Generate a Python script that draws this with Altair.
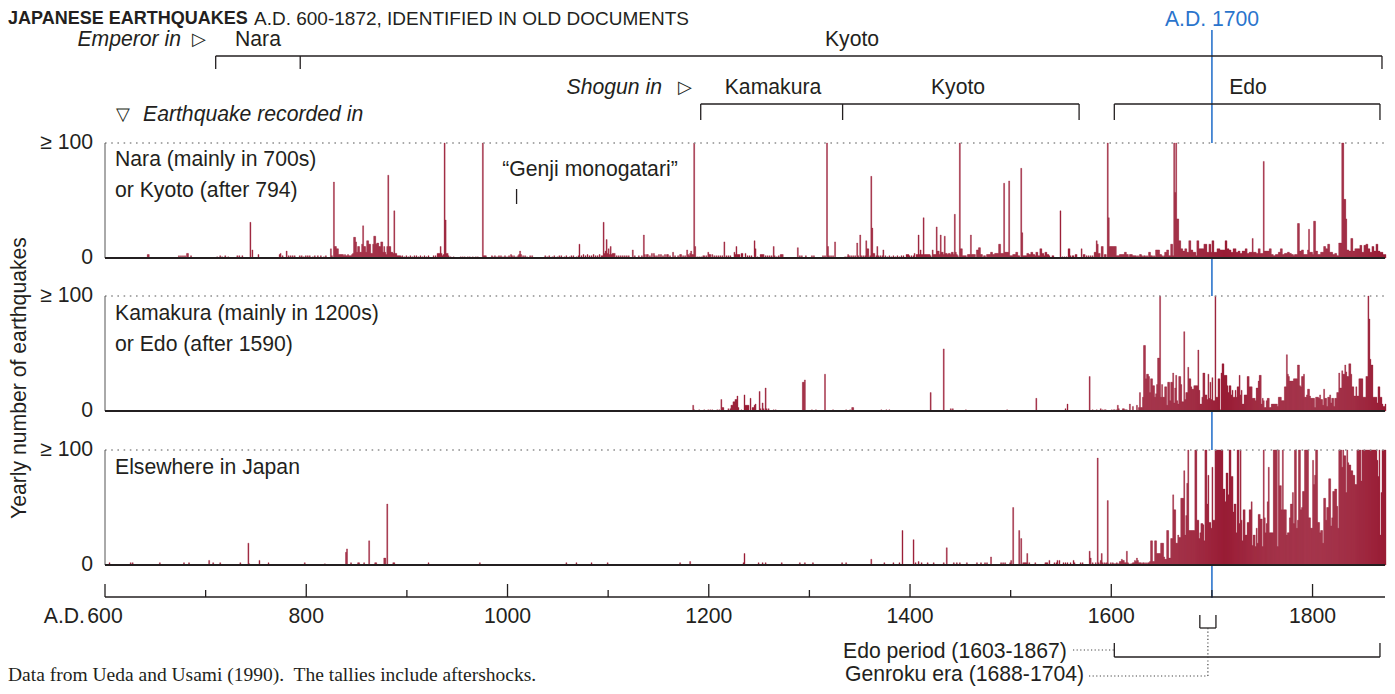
import altair as alt
import pandas as pd

# ------------------------------------------------------------------ data
# Yearly earthquake counts (values >= 100 are capped).
# Panel 1: recorded in Nara (mainly 700s) or Kyoto (after 794) -- sparse years 600-1599
P1_EARLY = [
    (642, 3), (643, 3), (673, 2), (675, 2), (677, 2), (679, 2), (681, 4), (682, 4), (685, 2),
    (711, 1), (714, 2), (716, 1), (719, 2), (722, 1), (731, 2), (733, 2), (736, 2), (744, 31), (746, 7), (752, 3),
    (773, 3), (774, 4), (776, 2), (780, 6), (782, 2), (784, 2), (786, 2), (788, 2), (793, 2), (795, 2), (797, 1), (799, 2),
    (801, 2), (803, 2), (806, 1), (808, 2), (811, 2), (814, 2), (817, 1), (819, 2), (824, 8), (825, 2), (827, 66), (828, 10), (829, 10),
    (830, 8), (831, 8), (832, 3), (833, 3), (834, 3), (835, 3), (836, 3), (837, 2), (838, 3), (839, 2),
    (840, 2), (841, 3), (842, 2), (843, 2), (844, 2), (845, 3), (846, 4), (847, 18), (848, 18), (849, 14),
    (850, 5), (851, 10), (852, 10), (853, 5), (854, 5), (855, 12), (856, 28), (857, 10), (858, 10), (859, 5),
    (860, 15), (861, 15), (862, 12), (863, 12), (864, 4), (865, 4), (866, 12), (867, 19), (868, 19), (869, 12),
    (870, 13), (871, 13), (872, 10), (873, 10), (874, 14), (875, 14), (876, 5), (877, 10), (878, 5), (879, 3),
    (880, 10), (881, 72), (882, 10), (883, 10), (884, 5), (885, 5), (886, 4), (887, 41), (888, 4), (889, 4),
    (890, 2), (891, 2), (892, 2), (893, 2), (894, 1), (895, 2), (897, 1), (899, 2), (901, 1), (903, 2), (905, 1), (907, 2), (909, 2),
    (911, 1), (913, 2), (915, 1), (917, 2), (919, 1), (921, 2), (926, 2), (928, 2), (930, 4), (931, 4), (932, 4), (933, 10), (934, 4),
    (935, 2), (936, 3), (937, 100), (938, 33), (939, 4), (940, 4), (941, 2), (943, 1), (946, 1), (953, 1), (955, 1), (957, 1), (960, 1),
    (962, 1), (965, 1), (968, 1), (970, 1), (975, 100), (976, 2), (977, 2), (978, 2), (984, 2), (985, 1), (987, 2), (989, 1), (991, 2),
    (993, 2), (995, 1), (997, 2), (999, 1), (1001, 2), (1003, 3), (1004, 2), (1006, 2), (1008, 1), (1010, 2), (1011, 3), (1012, 6),
    (1013, 3), (1015, 2), (1017, 2), (1019, 1), (1022, 2), (1024, 2), (1037, 2), (1039, 1), (1041, 2), (1044, 1), (1046, 2), (1049, 1),
    (1051, 2), (1053, 2), (1056, 1), (1058, 2), (1061, 1), (1063, 2), (1065, 2), (1068, 1), (1070, 2), (1071, 12), (1073, 2), (1075, 3),
    (1077, 2), (1079, 3), (1081, 2), (1083, 2), (1085, 3), (1087, 2), (1089, 2), (1091, 3), (1093, 2), (1094, 2), (1095, 31), (1096, 4),
    (1097, 6), (1098, 16), (1099, 4), (1100, 8), (1101, 3), (1102, 10), (1103, 3), (1104, 4), (1105, 4), (1106, 4), (1108, 2), (1110, 2),
    (1112, 2), (1114, 2), (1116, 2), (1118, 2), (1120, 2), (1124, 7), (1126, 2), (1130, 2), (1133, 2), (1135, 20), (1136, 3), (1138, 3),
    (1139, 3), (1141, 2), (1143, 4), (1145, 4), (1146, 2), (1148, 2), (1150, 3), (1152, 3), (1154, 2), (1156, 3), (1158, 3), (1159, 3),
    (1161, 2), (1164, 5), (1166, 2), (1169, 2), (1171, 3), (1172, 3), (1174, 2), (1176, 2), (1178, 7), (1179, 3), (1180, 2), (1181, 4),
    (1182, 6), (1183, 3), (1184, 3), (1185, 100), (1186, 10), (1188, 1), (1190, 1), (1192, 1), (1194, 2), (1195, 2), (1197, 2), (1199, 5),
    (1200, 3), (1201, 3), (1203, 3), (1205, 2), (1207, 2), (1209, 2), (1211, 2), (1213, 2), (1215, 14), (1217, 2), (1219, 2), (1221, 2),
    (1225, 5), (1226, 3), (1227, 10), (1228, 3), (1229, 3), (1230, 3), (1232, 4), (1233, 4), (1236, 4), (1238, 2), (1240, 2), (1242, 2),
    (1245, 15), (1246, 8), (1248, 1), (1251, 3), (1252, 3), (1253, 3), (1254, 3), (1256, 2), (1258, 2), (1260, 2), (1262, 2), (1264, 10),
    (1265, 2), (1267, 1), (1269, 2), (1271, 3), (1272, 3), (1273, 3), (1288, 9), (1290, 2), (1292, 2), (1296, 2), (1302, 2), (1304, 2),
    (1313, 2), (1315, 2), (1317, 100), (1318, 10), (1319, 2), (1321, 2), (1323, 2), (1325, 14), (1335, 1), (1337, 1), (1338, 3), (1339, 2),
    (1341, 2), (1343, 2), (1345, 2), (1347, 13), (1348, 2), (1350, 20), (1351, 2), (1353, 2), (1355, 2), (1356, 15), (1357, 8), (1358, 8),
    (1360, 2), (1361, 71), (1362, 26), (1363, 4), (1364, 4), (1366, 2), (1367, 10), (1368, 2), (1370, 2), (1372, 2), (1373, 7), (1375, 2),
    (1377, 1), (1379, 2), (1381, 1), (1383, 2), (1385, 1), (1387, 2), (1389, 1), (1391, 2), (1393, 2), (1396, 3), (1397, 3), (1398, 3),
    (1399, 2), (1401, 2), (1403, 2), (1404, 4), (1406, 3), (1407, 3), (1408, 20), (1409, 3), (1410, 7), (1411, 3), (1412, 3), (1413, 35),
    (1414, 3), (1415, 3), (1416, 3), (1417, 3), (1418, 3), (1419, 3), (1420, 2), (1422, 7), (1423, 3), (1424, 3), (1425, 3), (1426, 27),
    (1427, 6), (1428, 6), (1429, 3), (1430, 20), (1431, 5), (1432, 5), (1433, 3), (1434, 19), (1435, 4), (1436, 4), (1437, 3), (1438, 4),
    (1439, 4), (1440, 3), (1441, 5), (1442, 5), (1443, 3), (1444, 38), (1445, 5), (1446, 3), (1447, 2), (1449, 100), (1450, 8), (1451, 8),
    (1452, 2), (1453, 2), (1454, 2), (1455, 2), (1457, 3), (1458, 3), (1459, 3), (1460, 20), (1461, 3), (1462, 3), (1463, 3), (1464, 3),
    (1466, 7), (1467, 7), (1468, 9), (1469, 9), (1470, 3), (1471, 3), (1473, 2), (1474, 2), (1476, 3), (1477, 3), (1478, 3), (1479, 3),
    (1480, 5), (1481, 5), (1482, 3), (1483, 3), (1484, 4), (1485, 4), (1486, 4), (1487, 4), (1488, 12), (1489, 12), (1490, 4), (1491, 4),
    (1492, 4), (1493, 65), (1494, 5), (1495, 5), (1496, 5), (1497, 5), (1498, 67), (1499, 2), (1500, 2), (1501, 2), (1502, 3), (1503, 3),
    (1504, 3), (1505, 5), (1506, 5), (1507, 2), (1508, 2), (1510, 78), (1511, 22), (1512, 2), (1513, 2), (1514, 2), (1515, 2), (1516, 4),
    (1517, 4), (1518, 3), (1519, 3), (1520, 5), (1521, 5), (1522, 3), (1523, 3), (1524, 2), (1525, 5), (1526, 5), (1527, 2), (1528, 2),
    (1529, 8), (1530, 8), (1531, 4), (1532, 4), (1533, 2), (1534, 5), (1535, 5), (1536, 3), (1537, 3), (1538, 2), (1541, 2), (1542, 2),
    (1549, 41), (1551, 1), (1553, 1), (1555, 1), (1557, 8), (1558, 8), (1559, 2), (1561, 2), (1562, 2), (1564, 3), (1565, 3), (1570, 8),
    (1572, 3), (1573, 3), (1575, 2), (1577, 2), (1579, 2), (1581, 2), (1583, 5), (1584, 5), (1585, 15), (1586, 12), (1587, 4), (1588, 4),
    (1590, 10), (1591, 10), (1593, 3), (1594, 3), (1596, 100), (1597, 35), (1598, 10), (1599, 10),
]
# Panel 1, every year from 1600 to 1872
P1_DENSE_START = 1600
P1_DENSE = [
    10, 10, 10, 10, 10, 2, 2, 2, 3, 3,        # 1600s
    3, 3, 3, 5, 5, 3, 3, 1, 3, 3,             # 1610s
    3, 2, 2, 2, 2, 1, 2, 1, 3, 3,             # 1620s
    2, 1, 2, 2, 1, 2, 1, 5, 5, 2,             # 1630s
    2, 1, 2, 1, 7, 7, 7, 7, 3, 3,             # 1640s
    2, 1, 2, 5, 5, 7, 7, 2, 2, 12,            # 1650s
    12, 2, 100, 57, 100, 34, 34, 15, 15, 8,   # 1660s
    8, 6, 6, 8, 8, 5, 5, 15, 15, 7,           # 1670s
    7, 5, 5, 5, 2, 15, 15, 8, 8, 8,           # 1680s
    8, 8, 12, 12, 12, 5, 5, 12, 12, 5,        # 1690s
    15, 15, 5, 5, 5, 8, 8, 8, 7, 7,           # 1700s
    7, 7, 7, 15, 15, 8, 8, 7, 7, 5,           # 1710s
    5, 8, 8, 8, 5, 5, 6, 6, 4, 4,             # 1720s
    6, 6, 6, 8, 8, 4, 4, 5, 5, 5,             # 1730s
    17, 5, 5, 5, 4, 4, 8, 8, 4, 4,            # 1740s
    4, 84, 6, 6, 6, 6, 6, 8, 8, 3,            # 1750s
    3, 2, 2, 3, 3, 3, 5, 5, 8, 8,             # 1760s
    3, 3, 4, 4, 4, 5, 5, 4, 4, 3,             # 1770s
    3, 2, 3, 3, 3, 30, 30, 6, 6, 7,           # 1780s
    7, 3, 3, 3, 3, 7, 25, 5, 5, 5,            # 1790s
    3, 32, 32, 6, 6, 3, 3, 3, 5, 5,           # 1800s
    5, 10, 10, 8, 8, 12, 12, 5, 5, 5,         # 1810s
    3, 3, 4, 4, 2, 2, 13, 13, 13, 100,        # 1820s
    100, 51, 51, 34, 7, 7, 6, 6, 17, 17,      # 1830s
    6, 6, 8, 8, 8, 8, 8, 11, 11, 5,           # 1840s
    5, 11, 11, 12, 12, 8, 8, 5, 5, 10,        # 1850s
    10, 6, 6, 12, 12, 6, 6, 5, 5, 5,          # 1860s
    3, 3, 3,                                  # 1870-1872
]

# Panel 2: recorded in Kamakura (mainly 1200s) or Edo (after 1590)
P2_EARLY = [
    (1184, 5), (1185, 1), (1190, 1), (1195, 1), (1199, 1), (1201, 1), (1203, 1), (1208, 1), (1210, 1), (1212, 10),
    (1213, 3), (1214, 3), (1219, 2), (1221, 2), (1222, 5), (1223, 5), (1224, 8), (1225, 8), (1226, 10), (1227, 10),
    (1228, 13), (1229, 3), (1232, 1), (1235, 14), (1236, 5), (1237, 5), (1238, 5), (1239, 5), (1241, 11), (1243, 3),
    (1244, 3), (1245, 5), (1246, 6), (1250, 17), (1251, 2), (1253, 7), (1254, 2), (1256, 20), (1257, 2), (1259, 2),
    (1264, 1), (1266, 1), (1293, 25), (1294, 25), (1295, 27), (1302, 1), (1306, 1), (1315, 32), (1323, 1), (1336, 1),
    (1340, 1), (1342, 3), (1343, 3), (1371, 1), (1376, 1), (1379, 1), (1420, 16), (1433, 54), (1440, 2), (1442, 2),
    (1455, 1), (1496, 1), (1525, 11), (1554, 2), (1556, 6), (1578, 30), (1581, 1), (1585, 1), (1589, 2), (1591, 1),
]
P2_DENSE_START = 1593
P2_DENSE = [
    1, 1, 0, 0, 0, 0, 0,                      # 1593-1599
    1, 0, 1, 1, 0, 1, 5, 2, 0, 0,             # 1600s
    0, 2, 2, 1, 1, 1, 0, 0, 6, 0,             # 1610s
    0, 4, 0, 0, 0, 5, 0, 3, 16, 3,            # 1620s
    3, 12, 57, 57, 28, 32, 32, 30, 16, 28,    # 1630s
    28, 22, 22, 12, 15, 23, 46, 46, 100, 12,  # 1640s
    23, 12, 12, 21, 21, 5, 25, 25, 9, 25,     # 1650s
    25, 33, 7, 20, 31, 9, 6, 30, 30, 23,      # 1660s
    8, 8, 69, 10, 16, 16, 38, 28, 28, 21,     # 1670s
    19, 19, 22, 22, 22, 22, 53, 18, 6, 6,     # 1680s
    12, 33, 33, 14, 14, 10, 32, 11, 25, 10,   # 1690s
    29, 9, 9, 100, 12, 12, 28, 28, 1, 33,     # 1700s
    41, 41, 31, 31, 31, 22, 16, 22, 22, 14,   # 1710s
    18, 12, 12, 18, 12, 21, 21, 31, 14, 18,   # 1720s
    6, 6, 14, 14, 14, 30, 30, 21, 21, 21,     # 1730s
    11, 11, 11, 9, 20, 20, 26, 31, 31, 6,     # 1740s
    11, 9, 3, 3, 9, 11, 11, 3, 3, 6,          # 1750s
    6, 6, 6, 6, 6, 4, 12, 12, 12, 9,          # 1760s
    9, 9, 21, 21, 49, 32, 30, 26, 26, 26,     # 1770s
    26, 28, 28, 28, 28, 40, 40, 22, 21, 30,   # 1780s
    30, 32, 12, 12, 14, 19, 19, 13, 11, 11,   # 1790s
    11, 11, 3, 12, 12, 12, 11, 14, 10, 10,    # 1800s
    5, 19, 11, 11, 4, 12, 12, 14, 7, 11,      # 1810s
    11, 4, 11, 11, 16, 16, 33, 20, 20, 35,    # 1820s
    32, 32, 40, 34, 30, 30, 41, 41, 32, 21,   # 1830s
    21, 13, 13, 21, 13, 13, 28, 28, 28, 28,   # 1840s
    12, 12, 12, 30, 30, 100, 80, 45, 40, 40,  # 1850s
    12, 12, 12, 12, 7, 21, 21, 12, 12, 6,     # 1860s
    4, 4, 6,                                  # 1870-1872
]

# Panel 3: recorded elsewhere in Japan
P3_EARLY = [
    (604, 2), (625, 2), (627, 2), (654, 2), (678, 2), (683, 2), (703, 4), (707, 2), (714, 2), (734, 2), (742, 19), (743, 1),
    (753, 4), (762, 2), (798, 2), (818, 1), (839, 11), (840, 14), (844, 2), (851, 2), (852, 2), (857, 2), (862, 21), (868, 2),
    (869, 2), (877, 6), (878, 6), (880, 53), (886, 2), (887, 2), (921, 2), (972, 2), (1058, 2), (1068, 2), (1083, 2), (1099, 2),
    (1171, 2), (1181, 3), (1234, 2), (1235, 10), (1249, 2), (1253, 2), (1256, 2), (1272, 2), (1290, 2), (1295, 2), (1303, 2),
    (1332, 2), (1336, 2), (1361, 5), (1374, 2), (1383, 2), (1389, 2), (1392, 30), (1403, 22), (1405, 2), (1408, 3), (1411, 2),
    (1417, 2), (1423, 2), (1433, 2), (1436, 15), (1443, 2), (1446, 2), (1449, 2), (1456, 2), (1466, 2), (1470, 2), (1474, 2),
    (1476, 2), (1480, 7), (1490, 2), (1492, 2), (1494, 2), (1499, 2), (1500, 4), (1502, 50), (1508, 30), (1510, 23), (1512, 2),
    (1513, 2), (1514, 2), (1515, 2), (1516, 10), (1518, 2), (1524, 2), (1534, 2), (1535, 2), (1536, 2), (1538, 4), (1543, 2),
    (1545, 2), (1546, 4), (1548, 4), (1552, 2), (1554, 2), (1556, 2), (1559, 2), (1562, 4), (1563, 2), (1569, 2), (1571, 2),
    (1578, 12), (1579, 6), (1581, 2), (1584, 2), (1586, 93), (1587, 2), (1589, 4), (1590, 10), (1591, 2),
]
P3_DENSE_START = 1593
P3_DENSE = [
    2, 1, 2, 56, 1, 0, 2,                                # 1593-1599
    0, 2, 1, 1, 1, 2, 1, 1, 3, 3,                        # 1600s
    5, 4, 4, 2, 2, 12, 2, 1, 0, 1,                       # 1610s
    1, 2, 2, 4, 3, 6, 4, 2, 2, 2,                        # 1620s
    1, 2, 2, 1, 2, 1, 2, 2, 3, 21,                       # 1630s
    21, 3, 3, 21, 21, 10, 10, 10, 10, 19,                # 1640s
    19, 19, 7, 5, 5, 30, 30, 6, 6, 23,                   # 1650s
    23, 61, 48, 48, 19, 19, 26, 24, 24, 58,              # 1660s
    58, 58, 82, 26, 43, 71, 100, 30, 30, 30,             # 1670s
    30, 30, 30, 100, 100, 39, 39, 23, 28, 36,            # 1680s
    36, 35, 21, 100, 100, 53, 78, 37, 37, 32,            # 1690s
    85, 39, 39, 100, 100, 100, 100, 100, 100, 100,       # 1700s
    100, 66, 66, 55, 80, 80, 61, 100, 100, 77,           # 1710s
    77, 46, 53, 53, 28, 100, 100, 36, 100, 39,           # 1720s
    21, 48, 48, 26, 26, 37, 37, 48, 48, 55,              # 1730s
    17, 26, 26, 16, 32, 19, 44, 44, 40, 40,              # 1740s
    16, 100, 41, 28, 36, 55, 85, 28, 28, 28,             # 1750s
    28, 100, 100, 100, 100, 16, 100, 69, 69, 48,         # 1760s
    100, 48, 48, 48, 26, 28, 28, 41, 53, 53,             # 1770s
    63, 36, 100, 100, 32, 39, 100, 100, 48, 50,          # 1780s
    64, 64, 100, 100, 100, 100, 41, 41, 32, 32,          # 1790s
    91, 70, 78, 100, 100, 37, 37, 28, 30, 30,            # 1800s
    19, 58, 58, 39, 50, 50, 75, 75, 34, 41,              # 1810s
    64, 64, 66, 66, 51, 32, 100, 100, 100, 85,           # 1820s
    100, 95, 95, 63, 100, 89, 87, 87, 82, 82,            # 1830s
    78, 78, 70, 70, 100, 100, 100, 100, 73, 100,         # 1840s
    100, 100, 100, 100, 100, 100, 100, 100, 100, 100,    # 1850s
    100, 100, 100, 100, 91, 77, 100, 26, 63, 100,        # 1860s
    100, 100, 100,                                       # 1870-1872
]

PANEL_LABELS = [["Nara (mainly in 700s)", "or Kyoto (after 794)"],
                ["Kamakura (mainly in 1200s)", "or Edo (after 1590)"],
                ["Elsewhere in Japan"]]
EMPEROR_SEATS = [("Nara", 710, 794), ("Kyoto", 794, 1869)]
SHOGUN_SEATS = [("Kamakura", 1192, 1333), ("Kyoto", 1333, 1568), ("Edo", 1603, 1867)]
MAJOR_TICKS = [600, 800, 1000, 1200, 1400, 1600, 1800]
MINOR_TICKS = [700, 900, 1100, 1300, 1500, 1700]
EDO_PERIOD = (1603, 1867)
GENROKU_ERA = (1688, 1704)
GENJI_YEAR = 1009
MARK_YEAR = 1700
CAP = 100

# ------------------------------------------------------------------ layout
W, H = 1280, 678           # plot area (page x 105..1385, page y 8..686)
PXU = 1.15                 # pixels per earthquake
FONT = "Liberation Sans"
SERIF = "Liberation Serif"
FS = 21.2
INK = "#231f20"
RED = "#9b1e36"
BLUE = "#2a74cc"
DOT = "#8f8f8f"


def U(page_y):
    """page pixel row -> y-scale units"""
    return (H + 8 - page_y) / PXU


def YR(page_x):
    """page pixel column -> x-scale units (years)"""
    return 600 + (page_x - 105) * 1272 / W


BASES = [U(258), U(411), U(565)]
XS = alt.Scale(domain=[600, 1872], range=[0, W], nice=False, zero=False)
YS = alt.Scale(domain=[0, H / PXU], nice=False, zero=False)


def X(f):
    return alt.X(f, type="quantitative", scale=XS, axis=None)


def Y(f):
    return alt.Y(f, type="quantitative", scale=YS, axis=None)


# bars
rows = []
for p, (early, start, dense) in enumerate([(P1_EARLY, P1_DENSE_START, P1_DENSE),
                                           (P2_EARLY, P2_DENSE_START, P2_DENSE),
                                           (P3_EARLY, P3_DENSE_START, P3_DENSE)]):
    series = list(early) + [(start + i, c) for i, c in enumerate(dense)]
    for yr, c in series:
        if c > 0:
            rows.append({"panel": p, "year": yr, "year2": yr + 1, "count": c,
                         "y0": BASES[p], "y1": BASES[p] + min(c, CAP)})
bars_df = pd.DataFrame(rows)

panels_df = pd.DataFrame({"x": [600] * 3, "x2": [1872] * 3,
                          "y0": BASES, "y1": [b + CAP for b in BASES]})

# solid segments: brackets, axis, ticks
seg = []
def s(x, x2, y, y2):
    seg.append({"x": x, "x2": x2, "y": y, "y2": y2})

# emperor seats
s(EMPEROR_SEATS[0][1], EMPEROR_SEATS[-1][2], U(56), U(56))
for yr in [EMPEROR_SEATS[0][1], EMPEROR_SEATS[0][2], EMPEROR_SEATS[-1][2]]:
    s(yr, yr, U(56), U(69))
# shogun seats
s(SHOGUN_SEATS[0][1], SHOGUN_SEATS[1][2], U(104), U(104))
s(SHOGUN_SEATS[2][1], SHOGUN_SEATS[2][2], U(104), U(104))
for yr in [SHOGUN_SEATS[0][1], SHOGUN_SEATS[0][2], SHOGUN_SEATS[1][2],
           SHOGUN_SEATS[2][1], SHOGUN_SEATS[2][2]]:
    s(yr, yr, U(104), U(120))
# Genji tick
s(GENJI_YEAR, GENJI_YEAR, U(189), U(204))
# x axis
s(600, 1872, U(597), U(597))
for yr in MAJOR_TICKS:
    s(yr, yr, U(597), U(584))
for yr in MINOR_TICKS:
    s(yr, yr, U(597), U(590))
# Genroku small bracket
s(GENROKU_ERA[0], GENROKU_ERA[0], U(615), U(628))
s(GENROKU_ERA[1], GENROKU_ERA[1], U(615), U(628))
s(GENROKU_ERA[0], GENROKU_ERA[1], U(628), U(628))
# Edo period bracket
s(EDO_PERIOD[0], EDO_PERIOD[0], U(643), U(657))
s(EDO_PERIOD[1], EDO_PERIOD[1], U(643), U(657))
s(EDO_PERIOD[0], EDO_PERIOD[1], U(657), U(657))
seg_df = pd.DataFrame(seg)

mid_genroku = (GENROKU_ERA[0] + GENROKU_ERA[1]) / 2
dots_df = pd.DataFrame([
    {"x": mid_genroku, "x2": mid_genroku, "y": U(628), "y2": U(676)},
    {"x": YR(1089), "x2": mid_genroku, "y": U(676), "y2": U(676)},
    {"x": YR(1073), "x2": EDO_PERIOD[0], "y": U(650), "y2": U(650)},
])

blue_df = pd.DataFrame({"x": [MARK_YEAR], "y": [U(30)], "y2": [U(598)]})

layers = []
layers.append(alt.Chart(blue_df).mark_rule(color=BLUE, strokeWidth=1.6).encode(
    x=X("x"), y=Y("y"), y2="y2"))
layers.append(alt.Chart(panels_df).mark_rect(color="white").encode(
    x=X("x"), x2="x2", y=Y("y0"), y2="y1"))
layers.append(alt.Chart(bars_df).mark_rect(color=RED, stroke=RED, strokeWidth=0.35).encode(
    x=X("year"), x2="year2", y=Y("y0"), y2="y1"))
layers.append(alt.Chart(panels_df).mark_rule(color=DOT, strokeWidth=1.6, strokeDash=[1.6, 4.6]).encode(
    x=X("x"), x2="x2", y=Y("y1")))
layers.append(alt.Chart(panels_df).mark_rule(color="#555555", strokeWidth=1).encode(
    x=X("x"), y=Y("y0"), y2="y1"))
layers.append(alt.Chart(panels_df).mark_rule(color=INK, strokeWidth=2).encode(
    x=X("x"), x2="x2", y=Y("y0")))
layers.append(alt.Chart(seg_df).mark_rule(color=INK, strokeWidth=1.3).encode(
    x=X("x"), x2="x2", y=Y("y"), y2="y2"))
layers.append(alt.Chart(dots_df).mark_rule(color="#444444", strokeWidth=1.2, strokeDash=[1.2, 2.4]).encode(
    x=X("x"), x2="x2", y=Y("y"), y2="y2"))

ONE = pd.DataFrame({"k": [0]})


def txt(text, page_x, page_y, align="left", size=FS, style="normal", weight="normal",
        color=INK, font=FONT, angle=None):
    kw = dict(text=text, align=align, baseline="middle", fontSize=size, fontStyle=style,
              fontWeight=weight, color=color, font=font)
    if angle is not None:
        kw["angle"] = angle
    return alt.Chart(ONE).mark_text(**kw).encode(x=alt.value(page_x - 105), y=alt.value(page_y - 8))


# title
layers.append(txt("JAPANESE EARTHQUAKES", 8, 19, size=18, weight="bold"))
layers.append(txt("A.D. 600-1872, IDENTIFIED IN OLD DOCUMENTS", 254, 19, size=19))
layers.append(txt("A.D. 1700", 1212, 20, align="center", color=BLUE))
# emperor row
layers.append(txt("Emperor in", 181, 40, align="right", style="italic"))
layers.append(txt("\u25B7", 199, 40, align="center", size=18))
layers.append(txt(EMPEROR_SEATS[0][0], 235, 40))
layers.append(txt(EMPEROR_SEATS[1][0], 852, 40, align="center"))
# shogun row
layers.append(txt("Shogun in", 662, 88, align="right", style="italic"))
layers.append(txt("\u25B7", 685, 88, align="center", size=18))
for (name, _, _), cx in zip(SHOGUN_SEATS, [773, 958, 1248]):
    layers.append(txt(name, cx, 88, align="center"))
layers.append(txt("\u25BD", 123, 115, align="center", size=18))
layers.append(txt("Earthquake recorded in", 143, 115, style="italic"))
# panel labels
for lines, y0 in zip(PANEL_LABELS, [160, 314, 468]):
    for i, line in enumerate(lines):
        layers.append(txt(line, 115, y0 + i * 31))
layers.append(txt("\u201CGenji monogatari\u201D", 590, 170, align="center"))
# y labels
for base_y in [258, 411, 565]:
    layers.append(txt("\u2265 100", 93, base_y - 115, align="right"))
    layers.append(txt("0", 93, base_y, align="right"))
layers.append(txt("Yearly number of earthquakes", 20, 378, align="center", angle=270))
# x tick labels
tick_df = pd.DataFrame({"year": MAJOR_TICKS, "label": [str(t) for t in MAJOR_TICKS]})
layers.append(alt.Chart(tick_df).mark_text(fontSize=FS, font=FONT, color=INK, baseline="middle").encode(
    x=X("year"), y=alt.value(617 - 8), text="label:N"))
layers.append(txt("A.D.", 85, 617, align="right"))
# bottom notes
layers.append(txt("Edo period (1603-1867)", 843, 652))
layers.append(txt("Genroku era (1688-1704)", 845, 675))
layers.append(txt("Data from Ueda and Usami (1990).\u00A0 The tallies include aftershocks.", 8, 675,
                  size=19.5, font=SERIF))

chart = alt.layer(*layers).properties(
    width=W, height=H,
    padding={"left": 97, "top": 0, "right": 2, "bottom": 0},
    autosize=alt.AutoSizeParams(type="none"),
).configure_view(stroke=None)

chart.save("out.html", embed_options={"renderer": "svg", "actions": False})
